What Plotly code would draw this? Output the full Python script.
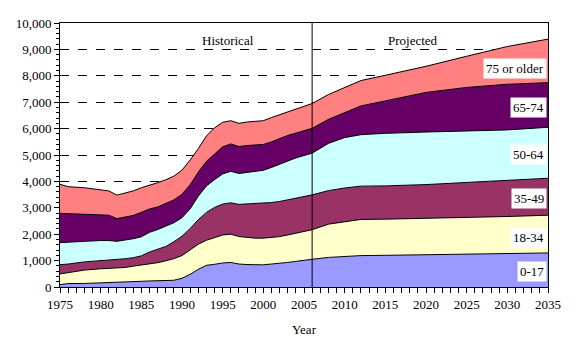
import plotly.graph_objects as go

years = [1975, 1976, 1978, 1980, 1981, 1982, 1983, 1984, 1985, 1986, 1987, 1988, 1989,
         1990, 1991, 1992, 1993, 1994, 1995, 1996, 1997, 1998, 1999, 2000, 2001, 2002,
         2003, 2004, 2005, 2006, 2008, 2010, 2012, 2015, 2020, 2025, 2030, 2035]

age_0_17 = [90, 130, 135, 150, 165, 175, 185, 200, 215, 230, 240, 245, 255,
            330, 480, 670, 820, 860, 910, 930, 870, 850, 840, 840, 870, 890,
            930, 970, 1000, 1050, 1120, 1160, 1190, 1200, 1220, 1250, 1270, 1290]
age_18_34 = [405, 410, 505, 540, 535, 535, 555, 590, 615, 640, 680, 745, 820,
             860, 920, 950, 950, 1020, 1060, 1070, 1040, 1030, 1010, 1010, 1010, 1020,
             1040, 1070, 1100, 1120, 1260, 1320, 1370, 1370, 1380, 1380, 1400, 1430]
age_35_49 = [350, 330, 310, 300, 310, 340, 330, 320, 350, 455, 495, 545, 640,
             735, 815, 930, 1055, 1135, 1170, 1190, 1220, 1270, 1300, 1320, 1320, 1330,
             1330, 1340, 1330, 1320, 1270, 1270, 1260, 1260, 1280, 1330, 1380, 1400]
age_50_64 = [835, 820, 780, 770, 750, 680, 700, 720, 720, 745, 760, 755, 720,
             700, 745, 890, 1000, 1050, 1145, 1190, 1170, 1190, 1220, 1250, 1330, 1410,
             1480, 1510, 1550, 1580, 1790, 1910, 1950, 1990, 1990, 1950, 1900, 1930]
age_65_74 = [1110, 1085, 1035, 980, 960, 860, 870, 880, 930, 885, 855, 880, 865,
             890, 915, 910, 935, 970, 1025, 1040, 1020, 1020, 1000, 980, 970, 980,
             960, 940, 940, 940, 910, 960, 1090, 1230, 1500, 1650, 1730, 1690]
age_75_plus = [1100, 1025, 995, 950, 920, 890, 920, 930, 930, 895, 920, 890, 900,
               915, 935, 890, 960, 995, 930, 880, 880, 890, 900, 900, 920, 900,
               880, 890, 920, 940, 940, 950, 960, 970, 990, 1180, 1430, 1650]

series_names = ["0-17", "18-34", "35-49", "50-64", "65-74", "75 or older"]
series_values = [age_0_17, age_18_34, age_35_49, age_50_64, age_65_74, age_75_plus]
series_colors = ["#9999FF", "#FFFFCC", "#993366", "#CCFFFF", "#660066", "#FF8080"]
label_values = [580, 1873, 3350, 5013, 6786, 8264]

split_year = 2006
period_labels = ["Historical", "Projected"]
period_label_x = [1995.7, 2018.4]
period_label_y = 9320

FONT = "Liberation Serif"

fig = go.Figure()
for name, vals, col in zip(series_names, series_values, series_colors):
    fig.add_trace(go.Scatter(
        x=years, y=vals, name=name, mode="lines", stackgroup="one",
        line=dict(color="black", width=1), fillcolor=col,
        hoverinfo="x+y+name",
    ))

for name, yv in zip(series_names, label_values):
    fig.add_annotation(x=2034.85, y=yv, xref="x", yref="y", text=name,
                       showarrow=False, xanchor="right", yanchor="middle",
                       bgcolor="white", borderpad=2,
                       font=dict(family=FONT, size=13, color="black"))

for t, xv in zip(period_labels, period_label_x):
    fig.add_annotation(x=xv, y=period_label_y, xref="x", yref="y", text=t,
                       showarrow=False, xanchor="center", yanchor="middle",
                       font=dict(family=FONT, size=13, color="black"))

fig.add_shape(type="line", x0=split_year, x1=split_year, y0=0, y1=10000,
              xref="x", yref="y", line=dict(color="black", width=1))

fig.update_layout(
    width=567, height=351,
    margin=dict(l=49.5, r=26.6, t=7.7, b=72.3),
    paper_bgcolor="white", plot_bgcolor="white",
    showlegend=False,
    font=dict(family=FONT, size=12, color="black"),
)
fig.update_xaxes(
    range=[1975, 2035], tick0=1975, dtick=5,
    showline=True, linecolor="black", linewidth=1, mirror=True,
    ticks="outside", ticklen=5, tickcolor="black",
    minor=dict(dtick=1, ticks="outside", ticklen=5, tickcolor="black"),
    showgrid=False, zeroline=False,
    title=dict(text="Year", font=dict(family=FONT, size=13), standoff=14),
    tickfont=dict(family=FONT, size=13),
)
fig.update_yaxes(
    range=[0, 10000], tick0=0, dtick=1000, tickformat=",",
    showline=True, linecolor="black", linewidth=1, mirror=True,
    ticks="outside", ticklen=5, tickcolor="black",
    minor=dict(dtick=200, ticks="outside", ticklen=3, tickcolor="black"),
    showgrid=True, gridcolor="black", gridwidth=1, griddash="dash",
    zeroline=False,
    tickfont=dict(family=FONT, size=13),
)

fig.write_html("out.html")
